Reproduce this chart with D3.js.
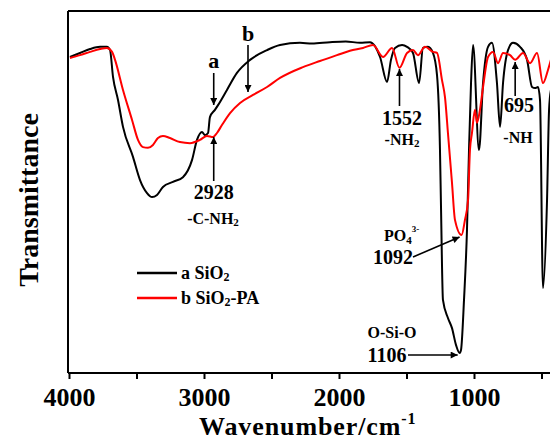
<!DOCTYPE html>
<html>
<head>
<meta charset="utf-8">
<script src="https://cdn.jsdelivr.net/npm/d3@7/dist/d3.min.js"></script>
<style>
html,body{margin:0;padding:0;background:#fff;}
svg{display:block;}
text{font-family:"Liberation Serif","Times New Roman",serif;font-weight:bold;fill:#000;}
</style>
</head>
<body>
<svg id="chart" width="550" height="441"></svg>
<script>
// ---- data ----
const seriesNames = ["a SiO2", "b SiO2-PA"];
const seriesColors = ["#000000", "#ff0000"];
// wavenumber (cm-1), transmittance (a.u.)
const sio2 = [[3993,87.3],[3919,88.4],[3844,89.5],[3770,90.1],[3719,90.1],[3696,89.2],[3674,81.8],[3637,75.4],[3600,68.0],[3526,59.7],[3474,53.3],[3422,49.7],[3385,48.6],[3348,49.2],[3304,51.4],[3230,52.8],[3156,54.1],[3089,58.8],[3052,64.4],[3015,66.6],[2993,65.7],[2970,66.3],[2956,70.7],[2919,72.7],[2896,74.0],[2830,78.2],[2756,82.9],[2659,86.5],[2533,89.2],[2437,90.6],[2289,91.2],[2200,91.0],[2067,91.4],[1950,91.6],[1844,91.2],[1770,91.4],[1696,87.3],[1644,80.4],[1615,86.5],[1585,89.8],[1533,90.6],[1496,90.1],[1452,88.4],[1407,80.1],[1378,89.8],[1341,90.1],[1304,88.4],[1274,82.3],[1252,61.6],[1244,45.0],[1230,20.2],[1193,15.2],[1163,12.4],[1133,7.7],[1106,5.5],[1096,6.4],[1074,20.2],[1052,39.5],[1037,61.6],[1022,80.1],[1007,90.6],[963,61.6],[933,80.1],[896,90.1],[867,91.2],[830,80.1],[807,68.0],[785,80.1],[748,89.2],[711,91.2],[659,90.1],[607,86.5],[570,79.0],[548,78.7],[526,79.0],[511,75.4],[489,23.5],[459,47.8],[444,72.7],[430,78.2]];
const sio2pa = [[3993,87.0],[3919,87.8],[3844,88.7],[3770,89.5],[3719,89.8],[3681,88.7],[3659,86.5],[3600,78.2],[3533,69.9],[3489,64.4],[3452,62.4],[3415,62.2],[3378,63.0],[3341,64.9],[3304,65.5],[3252,64.9],[3178,63.8],[3104,63.5],[3030,64.4],[2978,65.5],[2933,65.2],[2904,66.3],[2867,68.5],[2807,71.8],[2733,74.6],[2637,76.8],[2533,79.0],[2437,81.5],[2267,84.5],[2141,86.2],[2015,87.8],[1919,89.0],[1822,89.8],[1748,90.6],[1674,87.3],[1607,89.8],[1552,84.3],[1496,88.4],[1452,89.2],[1415,87.8],[1363,90.1],[1304,88.7],[1274,88.4],[1237,80.9],[1215,76.2],[1193,66.3],[1163,52.5],[1141,42.3],[1092,38.1],[1067,42.3],[1044,47.8],[1030,61.6],[1015,66.3],[993,72.7],[978,69.1],[956,72.7],[933,79.0],[896,87.3],[859,88.7],[822,85.6],[785,88.4],[733,87.8],[695,86.5],[637,88.4],[585,85.6],[533,88.4],[489,80.1],[452,83.7],[430,86.5]];
const majorTicks = [4000, 3000, 2000, 1000];
const minorTicks = [3500, 2500, 1500, 500];

// ---- layout ----
const svg = d3.select("#chart");
const L = 68, T = 11, B = 373, R = 556;
const x = d3.scaleLinear().domain([4000, 400]).range([69, 555]);
const y = d3.scaleLinear().domain([0, 100]).range([B, T]);

svg.append("defs").append("clipPath").attr("id","clip")
  .append("rect").attr("x", L).attr("y", T).attr("width", R - L).attr("height", B - T);
const mk = svg.select("defs").append("marker").attr("id","arr")
  .attr("viewBox","0 0 10 10").attr("refX",10).attr("refY",5)
  .attr("markerWidth",9).attr("markerHeight",7).attr("markerUnits","userSpaceOnUse")
  .attr("orient","auto");
mk.append("path").attr("d","M0,0L10,5L0,10Z").attr("fill","#000");

// frame
svg.append("line").attr("x1", L).attr("x2", 550).attr("y1", T).attr("y2", T).attr("stroke","#000").attr("stroke-width",2);
svg.append("line").attr("x1", L).attr("x2", L).attr("y1", T).attr("y2", B).attr("stroke","#000").attr("stroke-width",2);

// x axis
const xAxis = d3.axisBottom(x).tickValues(majorTicks).tickSize(6).tickSizeOuter(0).tickFormat(d3.format("d"));
const gx = svg.append("g").attr("transform", `translate(0,${B})`).call(xAxis);
gx.select(".domain").attr("d", `M${L},0H550`).attr("stroke-width", 2);
gx.selectAll(".tick line").attr("stroke-width", 2);
gx.selectAll(".tick text").attr("font-size", 26).attr("font-family", '"Liberation Serif",serif')
  .attr("font-weight","bold").attr("dy", null).attr("y", 33);
const gxm = svg.append("g").attr("transform", `translate(0,${B})`)
  .call(d3.axisBottom(x).tickValues(minorTicks).tickSize(6).tickSizeOuter(0).tickFormat(""));
gxm.select(".domain").remove();
gxm.selectAll(".tick line").attr("stroke-width", 2);

// curves
const line = d3.line().x(d => x(d[0])).y(d => y(d[1])).curve(d3.curveMonotoneX);
const plot = svg.append("g").attr("clip-path","url(#clip)");
[sio2, sio2pa].forEach((s, i) => {
  plot.append("path").datum(s.slice().sort((a,b)=>a[0]-b[0]))
    .attr("d", line).attr("fill","none").attr("stroke", seriesColors[i])
    .attr("stroke-width", 2).attr("stroke-linejoin","round");
});

// axis titles
const xt = svg.append("text").attr("x", 199).attr("y", 435).attr("font-size", 26).attr("letter-spacing", 0.9);
xt.append("tspan").text("Wavenumber/cm");
xt.append("tspan").attr("dy", -11).attr("font-size", 16).text("-1");
svg.append("text").attr("transform","translate(38,200) rotate(-90)").attr("text-anchor","middle")
  .attr("font-size", 28).text("Transmittance");

// legend
const legY = [273, 298];
seriesNames.forEach((n, i) => {
  svg.append("line").attr("x1",137).attr("x2",177).attr("y1",legY[i]).attr("y2",legY[i])
    .attr("stroke", seriesColors[i]).attr("stroke-width", 2.5);
  const parts = n.split("2");
  const t = svg.append("text").attr("x", 181).attr("y", legY[i] + 6).attr("font-size", 18);
  t.append("tspan").text(parts[0]);
  t.append("tspan").attr("font-size", 12).attr("dy", 2).text("2");
  if (parts[1]) t.append("tspan").attr("dy", -2).text(parts[1]);
});

// annotations
function arrow(x1, y1, x2, y2) {
  svg.append("line").attr("x1",x1).attr("y1",y1).attr("x2",x2).attr("y2",y2)
    .attr("stroke","#000").attr("stroke-width",1.6).attr("marker-end","url(#arr)");
}
function label(tx, ty, size, txt, anchor) {
  return svg.append("text").attr("x", tx).attr("y", ty).attr("font-size", size)
    .attr("text-anchor", anchor || "middle").text(txt);
}
label(x(2928), 68, 22, "a");
arrow(x(2928), 73, x(2928), 105);
label(248, 41, 22, "b");
arrow(248, 45, 248, 92);
arrow(x(2928), 181, x(2928), 137);
label(x(2928), 199, 20, "2928");
const cn = svg.append("text").attr("x", 213).attr("y", 224).attr("font-size", 16).attr("text-anchor","middle");
cn.append("tspan").text("-C-NH");
cn.append("tspan").attr("font-size", 11).attr("dy", 2).text("2");

arrow(x(1552), 106, x(1552), 69);
label(402, 125, 20, "1552");
const nh2 = svg.append("text").attr("x", 402).attr("y", 145).attr("font-size", 16).attr("text-anchor","middle");
nh2.append("tspan").text("-NH");
nh2.append("tspan").attr("font-size", 11).attr("dy", 2).text("2");

arrow(x(695), 96, x(695), 62);
label(519, 112, 20, "695");
label(518, 143, 16, "-NH");

const po = svg.append("text").attr("x", 384).attr("y", 241).attr("font-size", 16);
po.append("tspan").text("PO");
po.append("tspan").attr("font-size", 11).attr("dy", 3).text("4");
po.append("tspan").attr("font-size", 9).attr("dy", -12).text("3-");
label(393, 264, 20, "1092");
arrow(413, 257, x(1092) - 2, y(38.1) + 2);

label(392, 338, 16, "O-Si-O");
label(387, 362, 20, "1106");
arrow(408, 355, x(1106) - 2, 355);
</script>
</body>
</html>
